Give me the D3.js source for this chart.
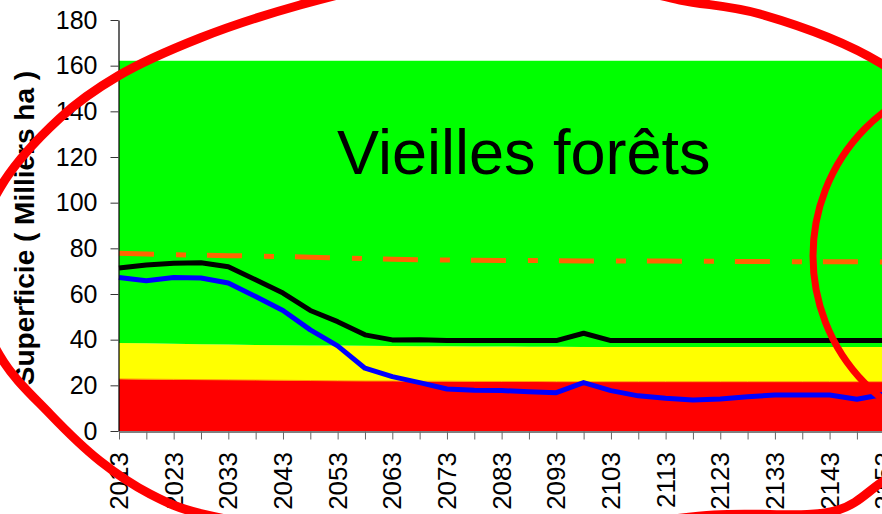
<!DOCTYPE html>
<html>
<head>
<meta charset="utf-8">
<script src="https://cdn.jsdelivr.net/npm/d3@7"></script>
<style>
  body { margin: 0; background: #fff; }
  svg { display: block; font-family: "Liberation Sans", Arial, sans-serif; }
</style>
</head>
<body>
<svg id="chart" width="882" height="514"></svg>
<script>
// categories (every 5 years)
var years = [2013, 2018, 2023, 2028, 2033, 2038, 2043, 2048, 2053, 2058,
             2063, 2068, 2073, 2078, 2083, 2088, 2093, 2098, 2103, 2108,
             2113, 2118, 2123, 2128, 2133, 2138, 2143, 2148, 2153];
var yearLabels = [2013, 2023, 2033, 2043, 2053, 2063, 2073, 2083, 2093,
                  2103, 2113, 2123, 2133, 2143, 2153];
var yTicks = [0, 20, 40, 60, 80, 100, 120, 140, 160, 180];

// stacked bands (thousands ha)
var redBand = [22.8, 22.7, 22.6, 22.5, 22.4, 22.3, 22.2, 22.1, 22.0, 21.9,
               21.9, 21.8, 21.8, 21.7, 21.7, 21.7, 21.6, 21.6, 21.6, 21.6,
               21.6, 21.6, 21.6, 21.6, 21.6, 21.6, 21.6, 21.6, 21.6];
var yellowBand = [15.7, 15.7, 15.6, 15.5, 15.5, 15.4, 15.4, 15.4, 15.4, 15.4,
                  15.3, 15.3, 15.3, 15.3, 15.3, 15.2, 15.3, 15.2, 15.2, 15.2,
                  15.2, 15.2, 15.2, 15.2, 15.2, 15.2, 15.2, 15.2, 15.2];
var greenBand = [123.6, 123.7, 123.9, 124.1, 124.2, 124.4, 124.5, 124.6, 124.7, 124.8,
                 124.9, 125.0, 125.0, 125.1, 125.1, 125.2, 125.2, 125.3, 125.3, 125.3,
                 125.3, 125.3, 125.3, 125.3, 125.3, 125.3, 125.3, 125.3, 125.3];

// lines
var blackLine = [71.4, 72.7, 73.5, 73.7, 71.9, 66.2, 60.4, 52.8, 47.9, 42.1,
                 39.9, 40.0, 39.6, 39.6, 39.6, 39.6, 39.6, 42.8, 39.6, 39.6,
                 39.6, 39.6, 39.6, 39.6, 39.6, 39.6, 39.6, 39.6, 39.6];
var blueLine = [67.2, 65.8, 67.2, 67.0, 64.8, 58.9, 52.8, 44.3, 37.3, 27.5,
                23.8, 21.2, 18.4, 17.8, 17.7, 17.2, 16.8, 21.2, 17.7, 15.4,
                14.3, 13.6, 14.0, 15.0, 15.8, 15.8, 15.8, 13.9, 16.1];
var orangeLine = [77.8, 77.5, 77.2, 77.0, 76.8, 76.6, 76.4, 76.1, 75.8, 75.5,
                  75.2, 75.0, 74.9, 74.8, 74.7, 74.7, 74.6, 74.5, 74.5, 74.4,
                  74.4, 74.3, 74.3, 74.2, 74.2, 74.1, 74.1, 74.1, 74.0];

// hand drawn red marks over the chart (screen pixels)
var bigLoop = [[-30, 272], [0, 188], [60, 118], [118, 76], [200, 38], [300, 5],
               [400, -18], [506, -25], [610, -16], [680, 0], [760, 14],
               [882, 64], [980, 150], [1010, 280], [965, 420], [882, 482],
               [838, 510], [714, 515], [458, 540], [202, 514], [150, 494],
               [100, 461], [50, 414], [0, 356]];
var smallLoop = {cx: 990, cy: 256, rx: 177, ry: 180};

var svg = d3.select('#chart');
var plotLeft = 119, plotTop = 20, plotBottom = 431;

var x = d3.scalePoint().domain(years).range([plotLeft, plotLeft + 28 * 27.33]);
var y = d3.scaleLinear().domain([0, 180]).range([plotBottom, plotTop]);

// stacked areas
var rows = years.map(function(d, i) {
    return {year: d, red: redBand[i], yellow: yellowBand[i], green: greenBand[i]};
});
var stack = d3.stack().keys(['red', 'yellow', 'green'])(rows);
var bandColors = {red: '#ff0000', yellow: '#ffff00', green: '#00ff00'};

var area = d3.area()
    .x(function(d) { return x(d.data.year); })
    .y0(function(d) { return y(d[0]); })
    .y1(function(d) { return y(d[1]); });

svg.append('g').selectAll('path')
    .data(stack)
    .enter().append('path')
    .attr('d', area)
    .attr('fill', function(d) { return bandColors[d.key]; });

// thin border on the red band
svg.append('path')
    .datum(stack[0])
    .attr('d', d3.line()
        .x(function(d) { return x(d.data.year); })
        .y(function(d) { return y(d[1]); }))
    .attr('fill', 'none')
    .attr('stroke', '#ff9900')
    .attr('stroke-width', 1);

// big label
svg.append('text')
    .attr('x', 337)
    .attr('y', 174)
    .attr('font-size', 63)
    .attr('fill', '#000')
    .text('Vieilles forêts');

// series lines
var line = d3.line()
    .x(function(d, i) { return x(years[i]); })
    .y(function(d) { return y(d); });

svg.append('path')
    .datum(orangeLine)
    .attr('d', line)
    .attr('fill', 'none')
    .attr('stroke', '#ff6600')
    .attr('stroke-width', 5)
    .attr('stroke-dasharray', '35,22,10,21');

svg.append('path')
    .datum(blackLine)
    .attr('d', line)
    .attr('fill', 'none')
    .attr('stroke', '#000')
    .attr('stroke-width', 5)
    .attr('stroke-linejoin', 'round');

svg.append('path')
    .datum(blueLine)
    .attr('d', line)
    .attr('fill', 'none')
    .attr('stroke', '#0000ff')
    .attr('stroke-width', 5)
    .attr('stroke-linejoin', 'round');

// y axis
var yAxis = svg.append('g')
    .attr('transform', 'translate(' + (plotLeft - 0.5) + ',0)')
    .call(d3.axisLeft(y).tickValues(yTicks).tickSize(8).tickSizeOuter(0).tickPadding(13));
yAxis.select('.domain').attr('stroke', '#000').attr('stroke-width', 1.2);
yAxis.selectAll('.tick line').attr('stroke', '#333');
yAxis.selectAll('.tick text')
    .attr('font-size', 25)
    .attr('font-family', '"Liberation Sans", Arial, sans-serif')
    .attr('fill', '#000');

// x axis
var xAxis = svg.append('g')
    .attr('transform', 'translate(0,' + (plotBottom + 0.5) + ')')
    .call(d3.axisBottom(x).tickSize(8).tickSizeOuter(0).tickFormat(''));
xAxis.select('.domain').attr('stroke', '#000').attr('stroke-width', 1.2);
xAxis.selectAll('.tick line').attr('stroke', '#666');

svg.append('g').selectAll('text')
    .data(yearLabels)
    .enter().append('text')
    .attr('transform', function(d) {
        return 'translate(' + x(d) + ',' + (plotBottom + 21) + ') rotate(-90)';
    })
    .attr('text-anchor', 'end')
    .attr('dy', '0.35em')
    .attr('font-size', 26)
    .attr('fill', '#000')
    .text(function(d) { return d; });

// y axis title
svg.append('text')
    .attr('transform', 'translate(34,228) rotate(-90)')
    .attr('text-anchor', 'middle')
    .attr('font-size', 28)
    .attr('font-weight', 'bold')
    .attr('fill', '#000')
    .text('Superficie ( Milliers ha )');

// red hand-drawn loops
svg.append('path')
    .datum(bigLoop)
    .attr('d', d3.line().curve(d3.curveCatmullRomClosed))
    .attr('fill', 'none')
    .attr('stroke', '#ff0000')
    .attr('stroke-width', 9);

svg.append('ellipse')
    .attr('cx', smallLoop.cx)
    .attr('cy', smallLoop.cy)
    .attr('rx', smallLoop.rx)
    .attr('ry', smallLoop.ry)
    .attr('fill', 'none')
    .attr('stroke', '#ff0000')
    .attr('stroke-width', 7);
</script>
</body>
</html>
